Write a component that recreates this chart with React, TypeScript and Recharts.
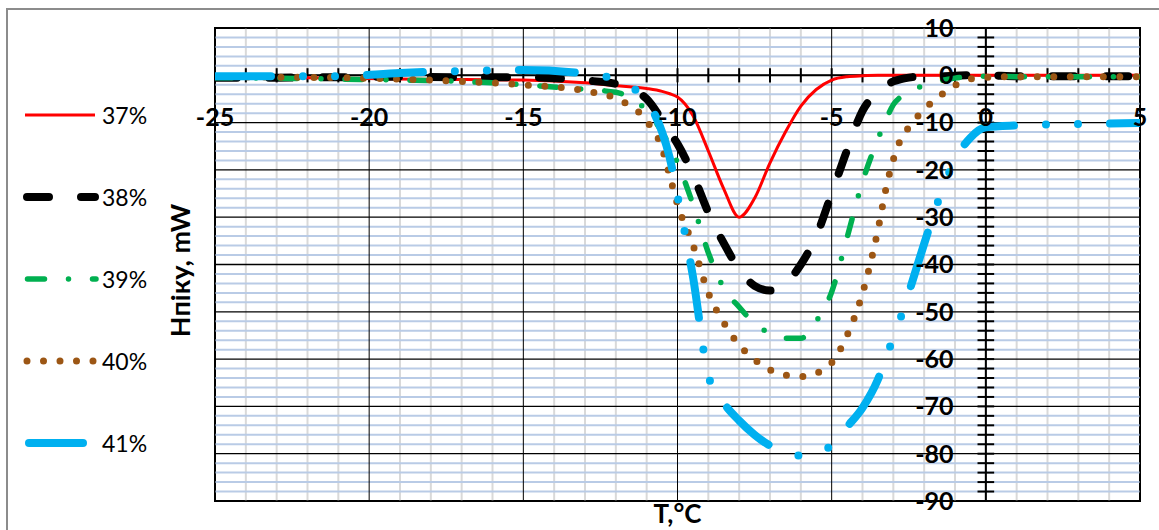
import React from 'react';
import {
  LineChart,
  Line,
  XAxis,
  YAxis,
  ReferenceLine,
  ReferenceArea,
  Legend,
} from 'recharts';

// temperature, °C
const temps = [
  -25, -23, -21, -19, -17, -15, -13, -12, -11, -10.5, -10.25, -10, -9.5, -9, -8.5, -8,
  -7.5, -7, -6.5, -6, -5.5, -5, -4.5, -4, -3.5, -3.25, -3, -2.75, -2.5, -2, -1.5, -1,
  -0.5, 0, 1, 2, 3, 4, 5,
];

// heat flow, mW
const h37 = [
  -0.2, -0.4, -0.6, -0.8, -0.9, -1.0, -1.6, -2.2, -2.8, -3.4, -3.9, -4.6, -8.5, -16, -24, -30,
  -26, -18.5, -12, -6.5, -3, -1, -0.3, -0.1, 0, 0, 0, 0, 0, 0, 0, 0,
  0, 0, 0, 0, 0, 0, 0,
];
const h38 = [
  -0.5, -0.5, -0.4, -0.3, -0.4, -0.4, -1.1, -1.8, -5, -9.5, -12, -14.5, -21, -29, -35.5, -41,
  -44.5, -45.5, -44, -40, -34, -25, -15.8, -7.5, -3.5, -2.2, -1.3, -0.8, -0.5, -0.2, -0.2, -0.1,
  0, 0, -0.2, -0.2, -0.2, -0.2, -0.2,
];
const h39 = [
  -0.5, -0.6, -0.8, -1.0, -1.3, -2.0, -3.0, -3.6, -7.5, -12, -15, -18.5, -27.3, -37.5, -45, -49,
  -52.5, -54.5, -55.6, -55.6, -52, -45.8, -34.3, -22.5, -13.5, -9.6, -6.2, -4.5, -3.4, -2.2, -1.2, -0.6,
  -0.3, -0.2, -0.3, -0.3, -0.3, -0.3, -0.3,
];
const h40 = [
  -0.3, -0.4, -0.5, -0.8, -1.3, -2.0, -3.3, -4.9, -9.7, -15.4, -21.3, -27.3, -35.8, -46, -52.3, -57,
  -60.1, -62.3, -63.4, -63.7, -63, -60.8, -55, -46.1, -32.7, -24.3, -17.8, -13.4, -11, -7.2, -4.4, -2.1,
  -0.8, -0.4, -0.3, -0.3, -0.3, -0.3, -0.3,
];
const h41 = [
  -0.2, -0.2, -0.2, 0.5, 0.9, 1.1, 0.4, -1.0, -5.5, -12, -17.5, -25.5, -42.5, -63.5, -69.3, -73,
  -76, -78.3, -79.8, -80.4, -80.2, -78.1, -74.3, -70.3, -64.3, -60, -55.4, -51, -46, -35.6, -25.8, -17.8,
  -13.2, -11, -10.6, -10.4, -10.3, -10.2, -10.1,
];

const xLabels = [-25, -20, -15, -10, -5, 0, 5];
const yLabels = [10, 0, -10, -20, -30, -40, -50, -60, -70, -80, -90];

const FONT = "Lato, 'Open Sans', 'DejaVu Sans', sans-serif";

const series = [
  { key: 'h37', name: '37%', color: '#ff0000', width: 3, dash: undefined, cap: 'butt' },
  { key: 'h38', name: '38%', color: '#000000', width: 8, dash: '22 32', cap: 'round' },
  { key: 'h39', name: '39%', color: '#00b050', width: 5.5, dash: '17 24 0 24', cap: 'round' },
  { key: 'h40', name: '40%', color: '#9c5614', width: 7, dash: '0 16.5', cap: 'round' },
  { key: 'h41', name: '41%', color: '#00b0f0', width: 8, dash: '56 32 0 32 0 32', cap: 'round' },
];

const data = temps.map((t, i) => ({
  t,
  h37: h37[i],
  h38: h38[i],
  h39: h39[i],
  h40: h40[i],
  h41: h41[i],
}));

const xMinor: number[] = [];
for (let v = -25; v <= 5; v++) xMinor.push(v);
const yMinor: number[] = [];
for (let v = -90; v <= 10; v += 2) yMinor.push(v);

const tickFont = { fill: '#000', fontSize: 25, fontWeight: 700, fontFamily: FONT };

// where each legend sample line starts/ends
const legendSpan: Record<string, [number, number]> = {
  h37: [25, 95],
  h38: [27, 95],
  h39: [27.5, 96],
  h40: [27, 94],
  h41: [29, 83],
};

const LegendBox = () => (
  <div style={{ width: 190 }}>
    {series.map((s) => (
      <div key={s.key} style={{ height: 82, display: 'flex', alignItems: 'center' }}>
        <svg width={102} height={16} style={{ display: 'block', flex: 'none' }}>
          <line
            x1={legendSpan[s.key][0]}
            x2={legendSpan[s.key][1]}
            y1={8}
            y2={8}
            stroke={s.color}
            strokeWidth={s.width}
            strokeDasharray={s.dash}
            strokeLinecap={s.cap as any}
          />
        </svg>
        <span style={{ fontFamily: FONT, fontSize: 23, color: '#000', lineHeight: '23px' }}>
          {s.name}
        </span>
      </div>
    ))}
  </div>
);

const YTitle = (props: any) => {
  const vb = props.viewBox;
  const cx = vb.x - 25;
  const cy = vb.y + vb.height / 2 + 6;
  return (
    <text
      x={cx}
      y={cy}
      transform={`rotate(-90 ${cx} ${cy})`}
      textAnchor="middle"
      fontFamily={FONT}
      fontSize={27}
      fontWeight={700}
      fill="#000"
    >
      Нпіку, mW
    </text>
  );
};

const XTitle = (props: any) => {
  const vb = props.viewBox;
  return (
    <text
      x={vb.x + vb.width / 2}
      y={vb.y + 22}
      textAnchor="middle"
      fontFamily={FONT}
      fontSize={26}
      fontWeight={700}
      fill="#000"
    >
      T,°C
    </text>
  );
};

export default function App() {
  return (
    <div
      style={{
        position: 'absolute',
        left: 0,
        top: 0,
        width: 1159,
        height: 530,
        overflow: 'hidden',
        background: '#fff',
      }}
    >
      <div
        style={{
          position: 'absolute',
          left: 6,
          top: 8,
          width: 1200,
          height: 600,
          borderTop: '2px solid #8c8c8c',
          borderLeft: '2px solid #8c8c8c',
        }}
      />
      <LineChart
        width={1159}
        height={530}
        data={data}
        margin={{ top: 28, right: 19, bottom: 29, left: 215 }}
      >
        <XAxis
          dataKey="t"
          type="number"
          domain={[-25, 5]}
          ticks={xMinor}
          interval={0}
          height={0}
          tick={false}
          tickLine={false}
          axisLine={false}
          allowDataOverflow
        />
        <YAxis
          type="number"
          domain={[-90, 10]}
          ticks={yMinor}
          interval={0}
          width={0}
          tick={false}
          tickLine={false}
          axisLine={false}
          allowDataOverflow
        />

        {/* minor grid */}
        {xMinor
          .filter((v) => v % 5 !== 0)
          .map((v) => (
            <ReferenceLine key={'gx' + v} x={v} stroke="#d9d9d9" strokeWidth={2} />
          ))}
        {yMinor
          .filter((v) => v % 10 !== 0)
          .map((v) => (
            <ReferenceLine key={'gy' + v} y={v} stroke="#b9cbe6" strokeWidth={2} />
          ))}
        {/* major grid */}
        {xMinor
          .filter((v) => v % 5 === 0)
          .map((v) => (
            <ReferenceLine key={'mx' + v} x={v} stroke="#000" strokeWidth={1} />
          ))}
        {yMinor
          .filter((v) => v % 10 === 0)
          .map((v) => (
            <ReferenceLine key={'my' + v} y={v} stroke="#000" strokeWidth={1.3} />
          ))}
        <ReferenceArea x1={-25} x2={5} y1={-90} y2={10} fill="none" stroke="#000" strokeWidth={2} />
        <ReferenceLine x={-25} stroke="none" label={<YTitle />} />
        <ReferenceLine y={-90} stroke="none" label={<XTitle />} />

        {/* axes through the origin */}
        <ReferenceLine y={0} stroke="#000" strokeWidth={2} />
        <ReferenceLine x={0} stroke="#000" strokeWidth={2} />
        {xMinor.map((v) => (
          <ReferenceLine
            key={'xt' + v}
            segment={[
              { x: v, y: -1.5 },
              { x: v, y: 1.5 },
            ]}
            stroke="#000"
            strokeWidth={2}
            label={
              xLabels.includes(v)
                ? { value: String(v), position: 'bottom', offset: 26, ...tickFont }
                : undefined
            }
          />
        ))}
        {yMinor.map((v) => (
          <ReferenceLine
            key={'yt' + v}
            segment={[
              { x: -0.27, y: v },
              { x: 0.27, y: v },
            ]}
            stroke="#000"
            strokeWidth={2}
            label={
              yLabels.includes(v)
                ? { value: String(v), position: 'left', offset: 24, ...tickFont }
                : undefined
            }
          />
        ))}

        {series.map((s) => (
          <Line
            key={s.key}
            dataKey={s.key}
            name={s.name}
            type="monotone"
            stroke={s.color}
            strokeWidth={s.width}
            strokeDasharray={s.dash}
            strokeLinecap={s.cap as any}
            dot={false}
            activeDot={false}
            isAnimationActive={false}
          />
        ))}

        <Legend
          layout="vertical"
          align="center"
          verticalAlign="middle"
          content={<LegendBox />}
          wrapperStyle={{ left: 0, top: 74, width: 190 }}
        />
      </LineChart>
    </div>
  );
}
